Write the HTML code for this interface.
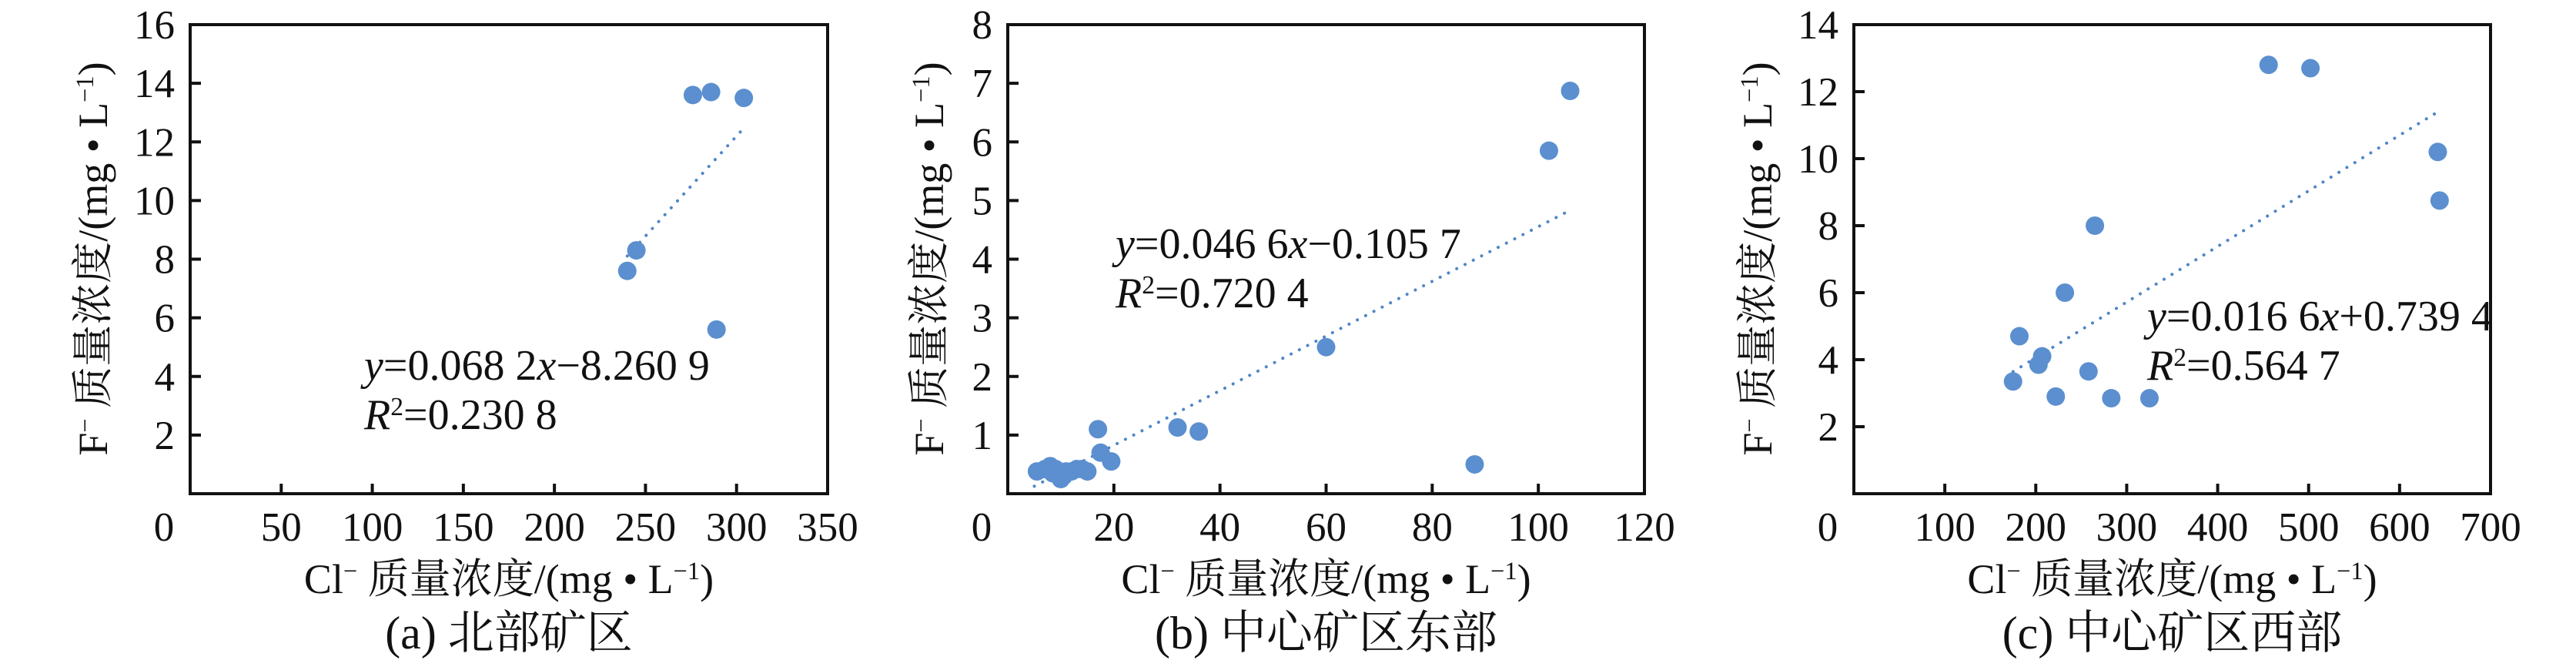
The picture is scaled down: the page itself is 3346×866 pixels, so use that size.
<!DOCTYPE html>
<html><head><meta charset="utf-8">
<style>
html,body{margin:0;padding:0;background:#fff;}
svg{display:block;}
text{font-family:"Liberation Serif","Noto Serif CJK SC","Noto Sans CJK SC",serif;fill:#111;}
</style></head>
<body>
<svg id="fig" width="3346" height="866" viewBox="0 0 3346 866" xmlns="http://www.w3.org/2000/svg"></svg>
<script>
// Panel (a) 北部矿区
const aX = [240, 245, 276, 286, 304, 289];
const aY = [7.6, 8.3, 13.6, 13.7, 13.5, 5.6];
const aXTicks = [0, 50, 100, 150, 200, 250, 300, 350];
const aYTicks = [2, 4, 6, 8, 10, 12, 14, 16];
const aFit = [0.0682, -8.2609];
const aFitRange = [240, 304];
// Panel (b) 中心矿区东部
const bX = [5.5, 7, 8, 8.5, 9, 10, 10.5, 11, 12, 13, 14, 15, 17, 17.5, 19.5, 32, 36, 60, 88, 102, 106];
const bY = [0.38, 0.42, 0.47, 0.35, 0.42, 0.25, 0.3, 0.38, 0.38, 0.42, 0.42, 0.38, 1.1, 0.7, 0.55, 1.13, 1.06, 2.5, 0.5, 5.85, 6.87];
const bXTicks = [0, 20, 40, 60, 80, 100, 120];
const bYTicks = [1, 2, 3, 4, 5, 6, 7, 8];
const bFit = [0.0466, -0.1057];
const bFitRange = [5, 106];
// Panel (c) 中心矿区西部
const cX = [175, 182, 203, 207, 222, 232, 258, 265, 283, 325, 456, 502, 642, 644];
const cY = [3.35, 4.7, 3.85, 4.1, 2.9, 6.0, 3.65, 8.0, 2.85, 2.85, 12.8, 12.7, 10.2, 8.75];
const cXTicks = [0, 100, 200, 300, 400, 500, 600, 700];
const cYTicks = [2, 4, 6, 8, 10, 12, 14];
const cFit = [0.0166, 0.7394];
const cFitRange = [175, 640];

const NS = "http://www.w3.org/2000/svg";
const svg = document.getElementById('fig');
function mk(tag, attrs, parent){
  const e = document.createElementNS(NS, tag);
  for (const k in attrs) e.setAttribute(k, attrs[k]);
  (parent || svg).appendChild(e);
  return e;
}
function tx(parent, x, y, parts, size, anchor, extra){
  const t = mk('text', Object.assign({x:x, y:y, 'font-size':size, 'text-anchor':anchor||'start'}, extra||{}), parent);
  parts.forEach(p=>{
    const s = mk('tspan', {}, t);
    if (p.sup) { s.setAttribute('baseline-shift','super'); s.setAttribute('font-size', size*0.6); }
    if (p.it) s.setAttribute('font-style','italic');
    s.textContent = p.t;
  });
  return t;
}
const TOP = 32, BOT = 641;
function panel(id, L, R, xs, ys, xTicks, yTicks, fit, fitRange, eqX, eqY, eqParts, r2Val, ytitleX, sub){
  const g = mk('g', {});
  
  
  const xmin = xTicks[0], xmax = xTicks[xTicks.length-1];
  const ymax = yTicks[yTicks.length-1];
  const sx = v => L + (v - xmin) / (xmax - xmin) * (R - L);
  const sy = v => BOT - v / ymax * (BOT - TOP);
  const frame = mk('rect', {x:L, y:TOP, width:R-L, height:BOT-TOP, fill:'none', stroke:'#111', 'stroke-width':4}, g);
  
  
  xTicks.forEach((v,i)=>{
    if (i>0 && i<xTicks.length-1) {
      const tk = mk('line', {x1:sx(v), x2:sx(v), y1:BOT, y2:BOT-13, stroke:'#111', 'stroke-width':4}, g);
      
      
    }
    const lx = i === 0 ? sx(v) - 34 : sx(v);
    const lb = tx(g, lx, 702, [{t:String(v)}], 53, 'middle');
    
    
  });
  yTicks.forEach((v,i)=>{
    if (i<yTicks.length-1) {
      const tk = mk('line', {x1:L, x2:L+14, y1:sy(v), y2:sy(v), stroke:'#111', 'stroke-width':4}, g);
      
      
    }
    const lb = tx(g, L-20, sy(v)+18, [{t:String(v)}], 53, 'end');
    
    
  });
  const f = x => fit[0]*x + fit[1];
  const tl = mk('line', {x1:sx(fitRange[0]), y1:sy(f(fitRange[0])), x2:sx(fitRange[1]), y2:sy(f(fitRange[1])),
    stroke:'#4f86c6', 'stroke-width':4, 'stroke-dasharray':'0.1 12', 'stroke-linecap':'round'}, g);
  
  
  xs.forEach((x,i)=>{
    const c = mk('circle', {cx:sx(x), cy:sy(ys[i]), r:12, fill:'#5b8fcf'}, g);
    
    
  });
  const eq = tx(g, eqX, eqY, eqParts, 56, 'start');
  
  
  const r2 = tx(g, eqX, eqY+64, [{t:'R', it:true},{t:'2', sup:true},{t:'='+r2Val}], 56, 'start');
  
  
  const cx = (L+R)/2;
  const xt = tx(g, cx, 770, [{t:'Cl'},{t:'−', sup:true},{t:' 质量浓度/(mg • L'},{t:'−1', sup:true},{t:')'}], 54, 'middle');
  
  
  const st = tx(g, cx, 842, [{t:sub}], 60, 'middle');
  
  
  const yt = tx(g, 0, 0, [{t:'F'},{t:'−', sup:true},{t:' 质量浓度/(mg • L'},{t:'−1', sup:true},{t:')'}], 54, 'middle',
    {transform:'translate('+(ytitleX+18)+',336) rotate(-90)'});
  
  
}
panel('a', 247, 1075, aX, aY, aXTicks, aYTicks, aFit, aFitRange, 473, 493,
  [{t:'y', it:true},{t:'=0.068 2'},{t:'x', it:true},{t:'−8.260 9'}], '0.230 8', 121, '(a) 北部矿区');
panel('b', 1309, 2136, bX, bY, bXTicks, bYTicks, bFit, bFitRange, 1449, 335,
  [{t:'y', it:true},{t:'=0.046 6'},{t:'x', it:true},{t:'−0.105 7'}], '0.720 4', 1207, '(b) 中心矿区东部');
panel('c', 2408, 3235, cX, cY, cXTicks, cYTicks, cFit, cFitRange, 2789, 429,
  [{t:'y', it:true},{t:'=0.016 6'},{t:'x', it:true},{t:'+0.739 4'}], '0.564 7', 2283, '(c) 中心矿区西部');
</script>
</body></html>
